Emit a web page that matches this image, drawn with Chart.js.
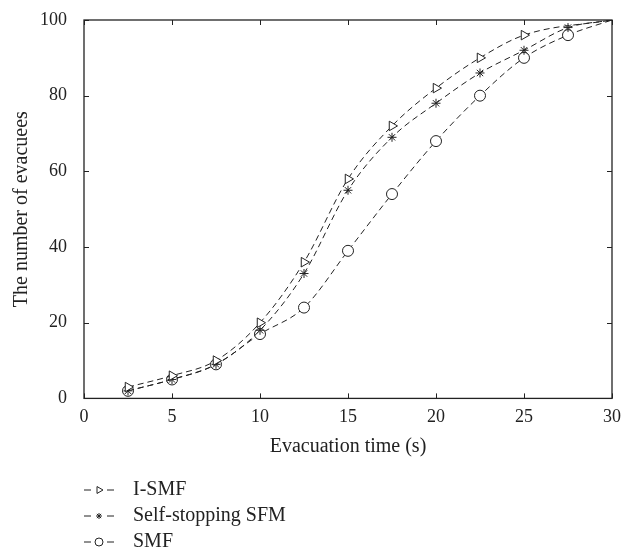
<!DOCTYPE html>
<html>
<head>
<meta charset="utf-8">
<script src="https://cdn.jsdelivr.net/npm/chart.js@4.4.1/dist/chart.umd.min.js"></script>
<style>
  html, body { margin: 0; padding: 0; background: #fff; }
  #wrap { width: 622px; height: 557px; }
</style>
</head>
<body>
<div id="wrap"><canvas id="chart"></canvas></div>
<script>
const times = [2.5, 5, 7.5, 10, 12.5, 15, 17.5, 20, 22.5, 25, 27.5, 30];
const iSmf = [3, 6, 10, 20, 36, 58, 72, 82, 90, 96, null, 100];
const selfStop = [2, 5, 9, 18, 33, 55, 69, 78, 86, 92, 98, 100];
const smf = [2, 5, 9, 17, 24, 39, 54, 68, 80, 90, 96, 100];

const seriesNames = ["I-SMF", "Self-stopping SFM", "SMF"];
const xTitle = "Evacuation time (s)";
const yTitle = "The number of evacuees";

const ink = "#222";
const serif = "'Liberation Serif', 'DejaVu Serif', serif";

function pts(vals) {
    return times.map((t, i) => ({ x: t, y: vals[i] }));
}

// no marker drawn at the last point (30 s)
function radii(r) {
    return times.map((t, i) => i === times.length - 1 ? 0 : r);
}

const markers = [
    { style: "triangle", rot: 90, r: 5.5 },
    { style: "star", rot: 0, r: 4.5 },
    { style: "circle", rot: 0, r: 5.5 }
];

function makeSet(label, vals, m) {
    return {
        label,
        data: pts(vals),
        borderColor: ink,
        borderWidth: 1,
        borderDash: [6, 4],
        backgroundColor: "#fff",
        pointStyle: m.style,
        pointRotation: m.rot,
        pointRadius: radii(m.r),
        pointBorderColor: ink,
        pointBorderWidth: 1,
        pointBackgroundColor: "#fff",
        cubicInterpolationMode: "monotone",
        spanGaps: true,
        fill: false
    };
}

// box, inward ticks and legend below the plot
const boxPlugin = {
    id: "box",
    afterDraw(chart) {
        const { ctx, chartArea: a, scales: { x, y } } = chart;
        ctx.save();
        ctx.strokeStyle = ink;
        ctx.lineWidth = 1.3;
        ctx.setLineDash([]);
        ctx.strokeRect(a.left, a.top, a.right - a.left, a.bottom - a.top);
        ctx.lineWidth = 1;
        x.ticks.forEach(t => {
            const px = Math.round(x.getPixelForValue(t.value)) + 0.5;
            ctx.beginPath();
            ctx.moveTo(px, a.bottom); ctx.lineTo(px, a.bottom - 5);
            ctx.moveTo(px, a.top); ctx.lineTo(px, a.top + 5);
            ctx.stroke();
        });
        y.ticks.forEach(t => {
            const py = Math.round(y.getPixelForValue(t.value)) + 0.5;
            ctx.beginPath();
            ctx.moveTo(a.left, py); ctx.lineTo(a.left + 5, py);
            ctx.moveTo(a.right, py); ctx.lineTo(a.right - 5, py);
            ctx.stroke();
        });

        // legend
        const lx = 84, ly = [490, 516, 542];
        ctx.font = "20px " + serif;
        ctx.textBaseline = "middle";
        chart.data.datasets.forEach((ds, i) => {
            const yy = ly[i];
            ctx.strokeStyle = ink;
            ctx.beginPath();
            ctx.moveTo(lx, yy); ctx.lineTo(lx + 7, yy);
            ctx.moveTo(lx + 23, yy); ctx.lineTo(lx + 30, yy);
            ctx.stroke();
            const m = markers[i];
            ctx.fillStyle = "#fff";
            Chart.helpers.drawPoint(ctx, {
                pointStyle: m.style,
                rotation: m.rot,
                radius: m.r - 1.5,
                borderWidth: 1
            }, lx + 15, yy);
            ctx.fillStyle = ink;
            ctx.fillText(ds.label, lx + 49, yy);
        });
        ctx.restore();
    }
};

new Chart(document.getElementById("chart"), {
    type: "line",
    data: {
        datasets: [
            makeSet(seriesNames[0], iSmf, markers[0]),
            makeSet(seriesNames[1], selfStop, markers[1]),
            makeSet(seriesNames[2], smf, markers[2])
        ]
    },
    options: {
        responsive: true,
        maintainAspectRatio: false,
        animation: false,
        layout: { padding: { top: 20, right: 10, bottom: 94, left: 0 } },
        plugins: {
            legend: { display: false },
            tooltip: { enabled: false }
        },
        scales: {
            x: {
                type: "linear",
                min: 0,
                max: 30,
                afterFit: s => { s.paddingLeft = 0; s.paddingRight = 0; },
                ticks: { stepSize: 5, color: ink, padding: 0, font: { family: serif, size: 18 } },
                grid: { display: false },
                border: { display: false },
                title: { display: true, text: xTitle, color: ink, font: { family: serif, size: 20 }, padding: { top: 7 } }
            },
            y: {
                min: 0,
                max: 100,
                afterFit: s => { s.width = 84; s.paddingTop = 0; s.paddingBottom = 0; },
                ticks: { stepSize: 20, color: ink, padding: 9, font: { family: serif, size: 18 } },
                grid: { display: false },
                border: { display: false },
                title: { display: true, text: yTitle, color: ink, font: { family: serif, size: 20 }, padding: { top: 10, bottom: 2 } }
            }
        }
    },
    plugins: [boxPlugin]
});
</script>
</body>
</html>
